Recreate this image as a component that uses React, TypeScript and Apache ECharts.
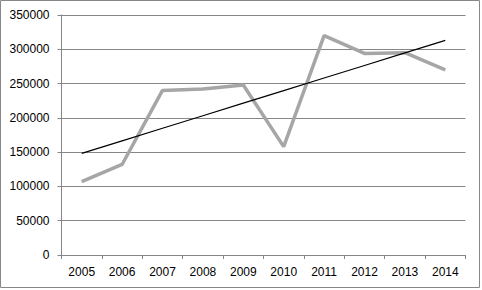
import React, { useEffect, useRef } from "react";
import * as echarts from "echarts";

const years = ["2005", "2006", "2007", "2008", "2009", "2010", "2011", "2012", "2013", "2014"];
const values = [107000, 132000, 240000, 242000, 248000, 158000, 320000, 294000, 295000, 270000];
const yTicks = { min: 0, max: 350000, interval: 50000 };

function linearTrend(ys: number[]): number[] {
  const n = ys.length;
  const mx = (n - 1) / 2;
  const my = ys.reduce((a, b) => a + b, 0) / n;
  let sxy = 0;
  let sxx = 0;
  ys.forEach((y, i) => {
    sxy += (i - mx) * (y - my);
    sxx += (i - mx) * (i - mx);
  });
  const slope = sxy / sxx;
  return ys.map((_, i) => my + slope * (i - mx));
}

export default function App() {
  const ref = useRef<HTMLDivElement>(null);
  useEffect(() => {
    if (!ref.current) return;
    const chart = echarts.init(ref.current, undefined, { renderer: "svg" });
    const trend = linearTrend(values);
    const font = "'Liberation Sans', Arial, sans-serif";
    chart.setOption({
      animation: false,
      backgroundColor: "#ffffff",
      grid: { left: 61.5, right: 16.5, top: 15, bottom: 35, containLabel: false },
      xAxis: {
        type: "category",
        data: years,
        boundaryGap: true,
        axisLine: { lineStyle: { color: "#868686", width: 1 } },
        axisTick: { show: true, length: 4, interval: 0, lineStyle: { color: "#868686" } },
        axisLabel: { color: "#000", fontFamily: font, fontSize: 12, margin: 11, interval: 0 },
        splitLine: { show: false },
      },
      yAxis: {
        type: "value",
        min: yTicks.min,
        max: yTicks.max,
        interval: yTicks.interval,
        axisLine: { show: true, lineStyle: { color: "#868686", width: 1 } },
        axisTick: { show: true, length: 4, lineStyle: { color: "#868686" } },
        axisLabel: {
          color: "#000",
          fontFamily: font,
          fontSize: 12,
          margin: 12,
          formatter: (v: number) => String(v),
        },
        splitLine: { show: true, lineStyle: { color: "#868686", width: 1 } },
      },
      series: [
        {
          type: "line",
          data: values,
          symbol: "none",
          lineStyle: { color: "#a6a6a6", width: 3.5 },
          z: 2,
        },
        {
          type: "line",
          data: trend,
          symbol: "none",
          lineStyle: { color: "#000000", width: 1.2 },
          z: 3,
        },
      ],
      graphic: [
        {
          type: "rect",
          shape: { x: 0.5, y: 0.5, width: 479, height: 287 },
          style: { fill: "none", stroke: "#878787", lineWidth: 1 },
          silent: true,
        },
      ],
    });
    return () => chart.dispose();
  }, []);
  return (
    <div
      ref={ref}
      style={{ position: "fixed", left: 0, top: 0, width: 482, height: 290 }}
    />
  );
}
